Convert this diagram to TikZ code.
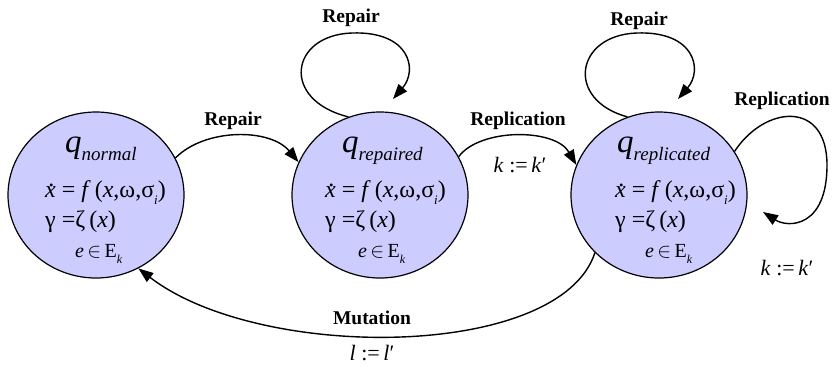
\documentclass[tikz,border=0pt]{standalone}
\usepackage{fontspec}
\setmainfont{Liberation Serif}[ItalicFont={Liberation Serif Italic},BoldFont={Liberation Serif Bold}]
\usetikzlibrary{shapes.geometric,arrows.meta}
\definecolor{statefill}{RGB}{204,204,255}
\newcommand\xdt{\textit{x}\llap{\raisebox{0.42em}[0pt][0pt]{.}\kern0.06em}}
\newcommand\lowsub[1]{\raisebox{-0.3em}[0pt][0pt]{\fontsize{13}{13}\selectfont\textit{#1}}}
\begin{document}
\begin{tikzpicture}[x=1pt,y=-1pt,
  state/.style={ellipse,draw=black,line width=1.2pt,fill=statefill,minimum width=176pt,minimum height=166pt,inner sep=0pt},
  lbl/.style={font=\fontsize{19.5}{20}\selectfont\bfseries,anchor=base,inner sep=0pt},
  asg/.style={font=\fontsize{22}{24}\selectfont,anchor=base,inner sep=0pt},
  eqn/.style={font=\fontsize{24}{26}\selectfont,anchor=base west,inner sep=0pt},
  qn/.style={anchor=base west,inner sep=0pt},
  en/.style={font=\fontsize{20}{22}\selectfont,anchor=base west,inner sep=0pt},
  tr/.style={line width=1.4pt,-{Triangle[length=15pt,width=11pt]}}]
\useasboundingbox (0,0) rectangle (833,368);
% states
\node[state] (n1) at (96,195) {};
\node[state] (n2) at (380,195) {};
\node[state] (n3) at (659,195) {};
% texts in states
\foreach \nm/\qx/\ex/\sx/\sub in {a/65/45/75/normal,b/342/325/358/repaired,c/617/615/645/replicated}{
  \node[qn] (q\nm) at (\qx,152) {\fontsize{33}{33}\selectfont\textit{q}\raisebox{-0.25em}[0pt][0pt]{\fontsize{19}{19}\selectfont\textit{\sub}}};
  \node[eqn] (e\nm) at (\ex,197) {\xdt\ = \textit{f}\,(\textit{x},ω,σ\lowsub{i})};
  \node[eqn] (g\nm) at (\ex,227) {γ =ζ\,(\textit{x})};
  \node[en] (s\nm) at (\sx,257) {\textit{e}\,$\in$\,E\raisebox{-0.3em}[0pt][0pt]{\fontsize{12}{12}\selectfont\textit{k}}};
}
% transitions
\coordinate (t2) at (393,99);
\coordinate (t3) at (678,99);
\coordinate (t3r) at (763,212);
\draw[tr] (n1.25) .. controls (205,128) and (270,128) .. (n2.158);
\draw[tr] (n2.112) .. controls (280,100) and (290,35) .. (352,33) .. controls (410,31) and (418,70) .. (t2);
\draw[tr] (n2.26) .. controls (480,128) and (555,128) .. (n3.160);
\draw[tr] (n3.112) .. controls (565,100) and (575,35) .. (637,33) .. controls (695,31) and (703,70) .. (t3);
\draw[tr] (n3.30) .. controls (765,105) and (827,100) .. (827,165) .. controls (827,228) and (788,228) .. (t3r);
\draw[tr] (n3.222) .. controls (560,360) and (260,362) .. (n1.300);
% labels
\node[lbl] (l1) at (233,125) {Repair};
\node[lbl] (l2) at (351,22) {Repair};
\node[lbl] (l3) at (518,125) {Replication};
\node[asg] (k1) at (520,172) {\textit{k} :=\,\textit{k}′};
\node[lbl] (l4) at (639,25) {Repair};
\node[lbl] (l5) at (782,105) {Replication};
\node[asg] (k2) at (787,275) {\textit{k} :=\,\textit{k}′};
\node[lbl] (l6) at (372,324) {Mutation};
\node[asg] (k3) at (372,360) {\textit{l} :=\,\textit{l}′};
\end{tikzpicture}
\end{document}
